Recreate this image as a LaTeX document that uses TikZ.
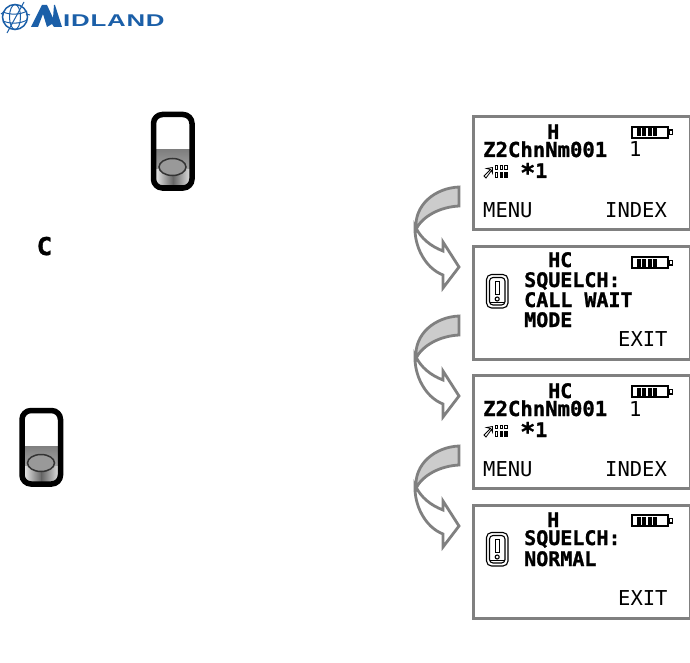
\documentclass[tikz,border=0pt]{standalone}
\usepackage{fontspec}
\setmainfont{DejaVu Sans Mono}
\setsansfont{Liberation Sans}
\newfontfamily\lcdbold[FakeBold=1.2,BoldFont={DejaVu Sans Mono Bold},UprightFont={DejaVu Sans Mono Bold}]{DejaVu Sans Mono}
\definecolor{frame}{HTML}{808080}
\definecolor{midblue}{HTML}{1B5FA8}
\tikzset{
  screen/.style={draw=frame,line width=3pt,fill=white,minimum width=217pt,minimum height=113pt,anchor=north west,inner sep=0pt,outer sep=0pt},
  bt/.style={anchor=base west,inner sep=0pt,font=\lcdbold\fontsize{20}{20}\selectfont,text=black},
  btw/.style={anchor=base west,inner sep=0pt,font=\lcdbold\fontsize{20.6}{20}\selectfont,text=black},
  rt/.style={anchor=base west,inner sep=0pt,font=\fontsize{20.5}{20}\selectfont,text=black},
  arrowline/.style={draw=frame,line width=2.8pt,line join=miter},
}
\newcommand{\drawbattery}[1]{%
  \begin{scope}[yshift=#1*-1pt]
    \draw[black,line width=2pt] (632,127) rectangle (668,138);
    \fill[black] (668,129.5) rectangle (673,135.5);
    \fill[white] (669.5,131) rectangle (671.6,134);
    \foreach \xx in {636.5,642,647.5,653}{\fill[black] (\xx,128.5) rectangle (\xx+4.2,136.5);}
  \end{scope}}
\newcommand{\drawarrow}[1]{%
  \begin{scope}[yshift=#1*-1pt]
    \path[arrowline,fill=white] (415,226) .. controls (414,246) and (425,268) .. (443,275)
      -- (443,288) -- (459,267) -- (443,242) -- (443,251)
      .. controls (430,246) and (421,238) .. (416,228) -- cycle;
    \path[arrowline,fill=black!20] (459,187) -- (459,206)
      .. controls (440,207) and (423,216) .. (416,229)
      .. controls (414,205) and (435,188) .. (459,187) -- cycle;
  \end{scope}}
\newcommand{\drawbutton}[2]{%
  \begin{scope}[shift={(#1,#2)}]
    \begin{scope}
      \clip[rounded corners=5pt] (3,3) rectangle (40,75);
      \fill[white] (3,3) rectangle (40,38);
      \shade[top color=black!50,bottom color=black!25] (3,38) rectangle (40,75);
      \shade[left color=black!5,right color=black!60] (3,58) rectangle (22,75);
      \shade[left color=black!60,right color=black!10] (22,58) rectangle (40,75);
    \end{scope}
    \fill[black!40] (21.5,55) ellipse (13.5 and 8.5);
    \draw[black!80,line width=1.5pt] (21.5,55) ellipse (13.5 and 8.5);
    \draw[black,line width=5.5pt,rounded corners=9pt] (2.5,2.5) rectangle (41,76);
  \end{scope}}
\newcommand{\warnicon}[1]{%
  \begin{scope}[yshift=#1*-1pt]
    \draw[black,line width=1.1pt,rounded corners=5pt] (486.5,274.5) rectangle (508,308);
    \draw[black,line width=1.1pt,rounded corners=3.5pt] (489.5,277.5) rectangle (505,305);
    \draw[black,line width=1pt] (495,281) -- (495,294) -- (499.5,294) -- (499.5,281) -- cycle;
    \draw[black,line width=1.1pt] (497.2,299) circle (2);
    \draw[black,line width=1.2pt] (490,302.8) -- (504.5,302.8);
  \end{scope}}
\newcommand{\anticon}[1]{%
  \begin{scope}[yshift=#1*-1pt]
    \draw[black,line width=.8pt] (484,176) -- (490.5,169.5) -- (486.5,168.5) -- (492.5,167.5) -- (492.5,173) -- (491.5,170.5) -- (486,178) -- cycle;
    \foreach \xx in {495,499.7,504.4}{%
      \fill[black] (\xx,172) rectangle (\xx+3.4,178);
      \fill[black] (\xx,165.5) rectangle (\xx+3.4,170);
      \fill[white] (\xx+1,166.5) rectangle (\xx+2.4,169);}
    \fill[white] (496,173) rectangle (497.4,177);
  \end{scope}}
\begin{document}
\begin{tikzpicture}[x=1pt,y=-1pt]
\useasboundingbox (0,0) rectangle (690,663);
\fill[white] (0,0) rectangle (690,663);

% Logo
\begin{scope}
  \draw[midblue,line width=1.5pt] (15,17) circle (12.5);
  \draw[midblue,line width=1pt] (15,17) ellipse (5.5 and 12.5);
  \draw[midblue,line width=1pt] (3,12) .. controls (10,15) and (20,15) .. (27,11)
     (3,21) .. controls (10,24) and (20,24) .. (27,20);
  \draw[midblue,line width=1pt] (7,33) -- (24,2) (1,14) -- (4,12) (26,14) -- (30,15);
  \fill[midblue] (31,27) -- (42,5) -- (47,5) -- (53,18) -- (54,5) -- (55,5) -- (62,27)
     -- (54,27) -- (52,24) -- (47,27) -- (43,14) -- (38,27) -- cycle;
  \node[anchor=base west,inner sep=0pt,text=midblue] (logotext) at (63,26.8)
     {\sffamily\bfseries\fontsize{17}{17}\selectfont\scalebox{1.52}[1]{\addfontfeature{LetterSpace=3}IDLAND}};
\end{scope}

% Buttons
\drawbutton{151}{112}
\drawbutton{19.5}{408}

% C indicator
\node[anchor=base west,inner sep=0pt,font=\lcdbold\fontsize{24.5}{24}\selectfont] (cicon) at (36.5,255) {\scalebox{1.05}[1]{C}};

% Arrows
\drawarrow{0}
\drawarrow{129}
\drawarrow{259}

% Screens
\node[screen] (s1) at (473.5,116.5) {};
\node[screen] (s2) at (473.5,246.5) {};
\node[screen] (s3) at (473.5,375.5) {};
\node[screen] (s4) at (473.5,505.5) {};

% Screen 1
\node[bt] (s1h) at (547,139) {H};
\drawbattery{0}
\node[btw] (s1ch) at (483,157) {Z2ChnNm001};
\node[rt] (s1n) at (629,157) {1};
\anticon{0}
\node[bt] (s1s) at (520,178) {\raisebox{-3.5pt}{\scalebox{1.25}{*}}1};
\node[rt] (s1m) at (483,217) {MENU};
\node[rt] (s1i) at (605,217) {INDEX};

% Screen 2
\node[bt] (s2h) at (548,267) {HC};
\drawbattery{130}
\warnicon{0}
\node[bt] (s2a) at (524,287) {SQUELCH:};
\node[bt] (s2b) at (524,307) {CALL WAIT};
\node[bt] (s2c) at (524,327) {MODE};
\node[rt] (s2e) at (618,346) {EXIT};

% Screen 3
\node[bt] (s3h) at (548,398) {HC};
\drawbattery{259}
\node[btw] (s3ch) at (483,416) {Z2ChnNm001};
\node[rt] (s3n) at (629,416) {1};
\anticon{259}
\node[bt] (s3s) at (520,437) {\raisebox{-3.5pt}{\scalebox{1.25}{*}}1};
\node[rt] (s3m) at (483,476) {MENU};
\node[rt] (s3i) at (605,476) {INDEX};

% Screen 4
\node[bt] (s4h) at (547,527) {H};
\drawbattery{388}
\warnicon{258}
\node[bt] (s4a) at (524,545) {SQUELCH:};
\node[bt] (s4b) at (524,566) {NORMAL};
\node[rt] (s4e) at (618,605) {EXIT};
\end{tikzpicture}
\end{document}
